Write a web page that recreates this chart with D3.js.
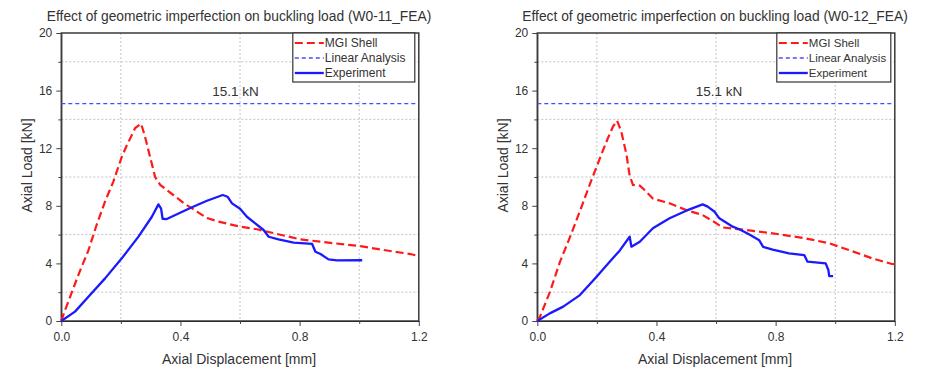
<!DOCTYPE html>
<html>
<head>
<meta charset="utf-8">
<script src="https://cdn.jsdelivr.net/npm/d3@7"></script>
<style>
  body { margin: 0; background: #fff; }
  svg { font-family: Arial, "Liberation Sans", sans-serif; }
</style>
</head>
<body>
<svg id="chart" width="930" height="368"></svg>
<script>
// ---- data ----
const panelTitles = [
  'Effect of geometric imperfection on buckling load (W0-11_FEA)',
  'Effect of geometric imperfection on buckling load (W0-12_FEA)'
];
const seriesNames = ['MGI Shell', 'Linear Analysis', 'Experiment'];
const xTicks = [0, 0.4, 0.8, 1.2];
const yTicks = [0, 4, 8, 12, 16, 20];
const xMinor = [0.2, 0.6, 1.0];
const yMinor = [2, 6, 10, 14, 18];
const linearLoad = 15.1;
const linearLabel = '15.1 kN';
const labelAt = [0.585, 0.61];

const mgiW011 = [
  [0, 0], [0.01, 0.6], [0.03, 1.7], [0.063, 3.5], [0.091, 4.9], [0.119, 6.7],
  [0.147, 8.3], [0.175, 9.7], [0.203, 11.4], [0.22, 12.2], [0.248, 13.4],
  [0.268, 13.7], [0.281, 12.8], [0.298, 11.4], [0.315, 10.0], [0.332, 9.45],
  [0.36, 9.0], [0.376, 8.75], [0.41, 8.2], [0.455, 7.6], [0.489, 7.15],
  [0.528, 6.9], [0.6, 6.55], [0.657, 6.37], [0.713, 6.1], [0.802, 5.67],
  [0.914, 5.4], [1.004, 5.2], [1.082, 4.93], [1.172, 4.65], [1.2, 4.5]
];
const expW011 = [
  [0, 0], [0.046, 0.65], [0.091, 1.69], [0.147, 2.96], [0.203, 4.35],
  [0.259, 5.86], [0.304, 7.24], [0.326, 8.1], [0.335, 7.8], [0.34, 7.1],
  [0.354, 7.08], [0.433, 7.85], [0.489, 8.35], [0.542, 8.75], [0.558, 8.63],
  [0.573, 8.17], [0.6, 7.8], [0.623, 7.24], [0.651, 6.78], [0.679, 6.32],
  [0.696, 5.85], [0.729, 5.67], [0.78, 5.44], [0.842, 5.35], [0.853, 4.81],
  [0.87, 4.65], [0.897, 4.28], [0.926, 4.21], [1.01, 4.22]
];
const mgiW012 = [
  [0, 0], [0.009, 0.3], [0.042, 2.0], [0.076, 4.1], [0.115, 6.1], [0.148, 7.9],
  [0.182, 9.8], [0.21, 11.3], [0.237, 12.7], [0.254, 13.5], [0.268, 13.9],
  [0.282, 13.15], [0.299, 11.6], [0.31, 10.1], [0.321, 9.45], [0.344, 9.4],
  [0.36, 9.1], [0.388, 8.5], [0.444, 8.17], [0.5, 7.7], [0.555, 7.36],
  [0.6, 6.8], [0.622, 6.5], [0.7, 6.32], [0.79, 6.09], [0.9, 5.74],
  [0.979, 5.4], [1.046, 4.93], [1.124, 4.35], [1.19, 3.96], [1.2, 3.95]
];
const expW012 = [
  [0, 0], [0.042, 0.53], [0.087, 1.0], [0.143, 1.8], [0.199, 3.08],
  [0.243, 4.12], [0.277, 4.9], [0.31, 5.85], [0.316, 5.16], [0.344, 5.5],
  [0.388, 6.44], [0.444, 7.13], [0.5, 7.66], [0.555, 8.1], [0.572, 7.94],
  [0.595, 7.59], [0.611, 7.13], [0.656, 6.55], [0.678, 6.37], [0.712, 6.0],
  [0.745, 5.6], [0.758, 5.15], [0.79, 4.95], [0.845, 4.7], [0.896, 4.58],
  [0.907, 4.12], [0.968, 4.0], [0.977, 3.54], [0.98, 3.12], [0.993, 3.12]
];

const mgiSeries = [mgiW011, mgiW012];
const expSeries = [expW011, expW012];

// ---- layout ----
const panelLeft = [61.3, 537.3];
const plotW = 357.5;
const plotTop = 33;
const plotH = 288;
const legendW = [122, 114];

const svg = d3.select('#chart');

panelTitles.forEach((title, i) => {
  const g = svg.append('g')
    .attr('transform', 'translate(' + panelLeft[i] + ', ' + plotTop + ')');

  const xScale = d3.scaleLinear().domain([0, 1.2]).range([0, plotW]);
  const yScale = d3.scaleLinear().domain([0, 20]).range([plotH, 0]);

  // dotted grid at minor positions
  g.append('g')
    .selectAll('line')
    .data(xMinor)
    .enter()
    .append('line')
    .attr('x1', d => xScale(d)).attr('x2', d => xScale(d))
    .attr('y1', 0).attr('y2', plotH)
    .attr('stroke', '#c4c4c4').attr('stroke-width', 1)
    .attr('stroke-dasharray', '2,2');
  g.append('g')
    .selectAll('line')
    .data(yMinor)
    .enter()
    .append('line')
    .attr('y1', d => yScale(d)).attr('y2', d => yScale(d))
    .attr('x1', 0).attr('x2', plotW)
    .attr('stroke', '#c4c4c4').attr('stroke-width', 1)
    .attr('stroke-dasharray', '2,2');

  // axes
  const xAxis = g.append('g')
    .attr('transform', 'translate(0, ' + plotH + ')')
    .call(d3.axisBottom(xScale).tickValues(xTicks).tickFormat(d3.format('.1f'))
      .tickSize(5).tickSizeOuter(0).tickPadding(6));
  g.append('g')
    .attr('transform', 'translate(0, ' + plotH + ')')
    .call(d3.axisBottom(xScale).tickValues(xMinor).tickFormat('').tickSize(3).tickSizeOuter(0))
    .select('.domain').remove();
  const yAxis = g.append('g')
    .call(d3.axisLeft(yScale).tickValues(yTicks).tickSize(5).tickSizeOuter(0).tickPadding(4));
  g.append('g')
    .call(d3.axisLeft(yScale).tickValues(yMinor).tickFormat('').tickSize(3).tickSizeOuter(0))
    .select('.domain').remove();

  svg.selectAll('.tick line').attr('stroke', '#444');
  [xAxis, yAxis].forEach(a => {
    a.selectAll('text').attr('font-size', 12).attr('fill', '#333')
      .attr('font-family', 'Arial, "Liberation Sans", sans-serif');
  });

  // frame
  g.append('rect')
    .attr('width', plotW).attr('height', plotH)
    .attr('fill', 'none').attr('stroke', '#3a3a3a').attr('stroke-width', 1.5);

  // linear analysis line
  g.append('line')
    .attr('x1', 0).attr('x2', plotW)
    .attr('y1', yScale(linearLoad)).attr('y2', yScale(linearLoad))
    .attr('stroke', '#4a4aff').attr('stroke-width', 1.3)
    .attr('stroke-dasharray', '4,3');
  g.append('text')
    .attr('x', xScale(labelAt[i])).attr('y', yScale(linearLoad) - 8)
    .attr('text-anchor', 'middle').attr('font-size', 13.5).attr('fill', '#333')
    .text(linearLabel);

  const line = d3.line().x(d => xScale(d[0])).y(d => yScale(d[1]));

  g.append('path')
    .attr('d', line(mgiSeries[i]))
    .attr('fill', 'none').attr('stroke', '#ff1a1a').attr('stroke-width', 2.2)
    .attr('stroke-dasharray', '8,4');
  g.append('path')
    .attr('d', line(expSeries[i]))
    .attr('fill', 'none').attr('stroke', '#1a1aff').attr('stroke-width', 2.3)
    .attr('stroke-linejoin', 'round');

  // legend
  const lw = legendW[i];
  const lg = g.append('g').attr('transform', 'translate(' + (plotW - lw - 4) + ', 0)');
  lg.append('rect')
    .attr('width', lw).attr('height', 49)
    .attr('fill', '#fff').attr('stroke', '#333').attr('stroke-width', 1.2);
  const styles = [
    { stroke: '#ff1a1a', dash: '8,4', w: 2.2 },
    { stroke: '#4a4aff', dash: '4,3', w: 1.3 },
    { stroke: '#1a1aff', dash: null, w: 2.3 }
  ];
  seriesNames.forEach((name, k) => {
    const yy = 10 + k * 15;
    lg.append('line')
      .attr('x1', 2).attr('x2', 31).attr('y1', yy).attr('y2', yy)
      .attr('stroke', styles[k].stroke).attr('stroke-width', styles[k].w)
      .attr('stroke-dasharray', styles[k].dash);
    lg.append('text')
      .attr('x', 32).attr('y', yy + 4)
      .attr('font-size', i === 0 ? 12 : 11.5).attr('fill', '#333')
      .text(name);
  });

  // titles
  g.append('text')
    .attr('x', plotW / 2 - 1).attr('y', -12)
    .attr('text-anchor', 'middle').attr('font-size', 13.8).attr('fill', '#333')
    .text(title);
  g.append('text')
    .attr('x', plotW / 2 - 1).attr('y', plotH + 43)
    .attr('text-anchor', 'middle').attr('font-size', 14).attr('fill', '#333')
    .text('Axial Displacement [mm]');
  g.append('text')
    .attr('transform', 'rotate(-90)')
    .attr('x', -132.5).attr('y', -29.5)
    .attr('text-anchor', 'middle').attr('font-size', 14).attr('fill', '#333')
    .text('Axial Load [kN]');
});
</script>
</body>
</html>
